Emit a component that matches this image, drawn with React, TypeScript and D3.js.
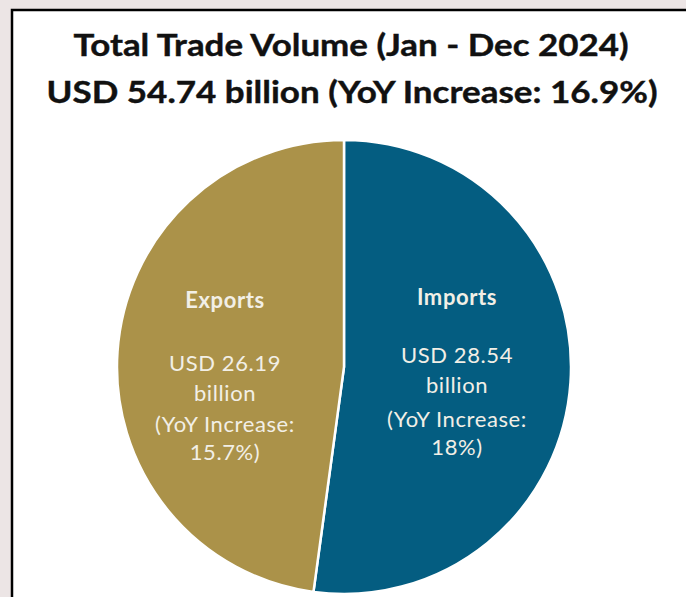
import React from "react";
import * as d3 from "d3";

const categories = ["Imports", "Exports"];
const values = [28.54, 26.19];
const valueLabels = ["USD 28.54", "USD 26.19"];
const yoyLabels = ["18%)", "15.7%)"];
const colors = ["#045D81", "#AB9249"];
const titleLines = ["Total Trade Volume (Jan - Dec 2024)", "USD 54.74 billion (YoY Increase: 16.9%)"];

const W = 686;
const H = 597;

export default function App() {
  const cx = 344;
  const cy = 367;
  const r = 227;
  const pie = d3.pie<number>().sort(null).startAngle(0).endAngle(2 * Math.PI);
  const arcs = pie(values);
  const arc = d3.arc<d3.PieArcDatum<number>>().innerRadius(0).outerRadius(r);
  const labelPos = [
    { x: 457, y: 305 },
    { x: 225, y: 308 },
  ];
  const font = "Lato, 'Open Sans', sans-serif";
  return (
    <svg width={W} height={H} style={{ position: "absolute", left: 0, top: 0 }}>
      <rect x={0} y={0} width={W} height={H} fill="#ECE5E5" />
      <rect x={12} y={10} width={W} height={H} fill="#FFFFFF" stroke="#000" strokeWidth={2.5} />
      <text x={351} y={56} textAnchor="middle" fontFamily={font} fontWeight="bold" fontSize={30} fill="#111" stroke="#111" strokeWidth={0.4} textLength={555} lengthAdjust="spacingAndGlyphs">{titleLines[0]}</text>
      <text x={352} y={103} textAnchor="middle" fontFamily={font} fontWeight="bold" fontSize={30} fill="#111" stroke="#111" strokeWidth={0.4} textLength={611} lengthAdjust="spacingAndGlyphs">{titleLines[1]}</text>
      <g transform={`translate(${cx},${cy})`}>
        {arcs.map((a, i) => (
          <path key={categories[i]} d={arc(a) || ""} fill={colors[i]} stroke="#fff" strokeWidth={2.5} />
        ))}
      </g>
      {categories.map((c, i) => {
        const p = labelPos[i];
        const off = i === 0 ? [0, 58, 88, 122, 150] : [0, 63, 93, 124, 152];
        return (
          <g key={c} fontFamily={font} fill="#F2EFE6" textAnchor="middle" fontSize={22} letterSpacing={0.6}>
            <text x={p.x} y={p.y + off[0]} fontWeight="bold">{c}</text>
            <text x={p.x} y={p.y + off[1]}>{valueLabels[i]}</text>
            <text x={p.x} y={p.y + off[2]}>billion</text>
            <text x={p.x} y={p.y + off[3]}>(YoY Increase:</text>
            <text x={p.x} y={p.y + off[4]}>{yoyLabels[i]}</text>
          </g>
        );
      })}
    </svg>
  );
}
